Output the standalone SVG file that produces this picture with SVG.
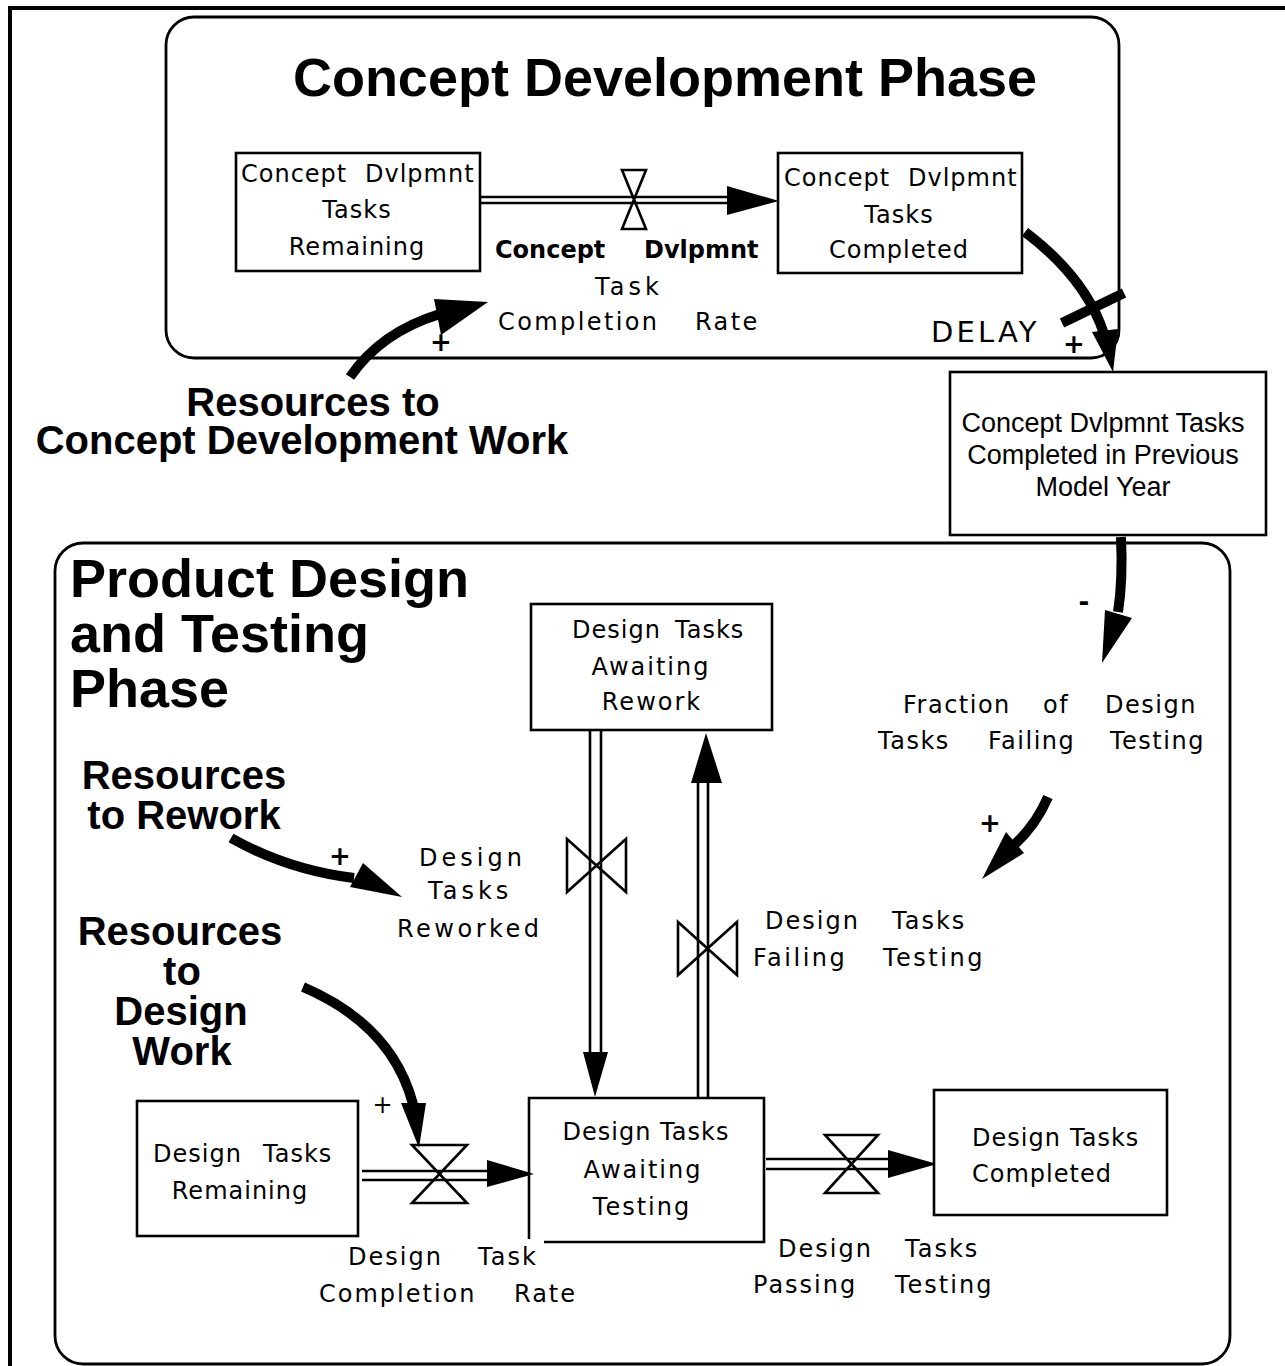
<svg xmlns="http://www.w3.org/2000/svg" width="1285" height="1366" viewBox="0 0 1285 1366">
<style>
.frame{fill:none;stroke:#000;stroke-width:4}
.phase{fill:none;stroke:#000;stroke-width:2.8}
.box{fill:#fff;stroke:#000;stroke-width:2.6}
.pipe{fill:none;stroke:#000;stroke-width:2.6}
.valve{fill:none;stroke:#000;stroke-width:2.6;stroke-linejoin:miter}
.link{fill:none;stroke:#000;stroke-width:10}
.head{fill:#000;stroke:none}
.t{font-family:"DejaVu Sans",Verdana,sans-serif;font-size:24px;fill:#000;letter-spacing:1px}
.r{font-family:"DejaVu Sans",Verdana,sans-serif;font-size:24px;fill:#000;letter-spacing:2px}
.c{text-anchor:middle}
.b{font-weight:bold}
.big{font-family:"Liberation Sans",Arial,Helvetica,sans-serif;font-weight:bold;font-size:40px;fill:#000}
.title{font-family:"Liberation Sans",Arial,Helvetica,sans-serif;font-weight:bold;font-size:54px;fill:#000}
.arial{font-family:"Liberation Sans",Arial,Helvetica,sans-serif;font-size:27px;fill:#000}
.sign{font-family:"DejaVu Sans",Verdana,sans-serif;font-weight:bold;font-size:26px;fill:#000;text-anchor:middle}
</style>
<rect width="1285" height="1366" fill="#fff"/>
<path class="frame" d="M10,1366 V8 H1285"/>

<g id="concept-phase">
  <rect class="phase" x="166" y="17" width="953" height="341" rx="28" ry="28"/>
  <text class="title c" x="665" y="96">Concept Development Phase</text>
</g>
<g id="design-phase">
  <rect class="phase" x="55" y="543" width="1175" height="821" rx="28" ry="28"/>
  <text class="title" x="70" y="597">Product Design</text>
  <text class="title" x="70" y="652">and Testing</text>
  <text class="title" x="70" y="707">Phase</text>
</g>

<g id="connectors">
  <!-- concept flow pipe -->
  <line class="pipe" x1="481" y1="197" x2="728" y2="197"/>
  <line class="pipe" x1="481" y1="203" x2="728" y2="203"/>
  <polygon class="head" points="727,186 779,201 727,215"/>
  <!-- rework pipe (down) -->
  <line class="pipe" x1="590" y1="731" x2="590" y2="1054"/>
  <line class="pipe" x1="601" y1="731" x2="601" y2="1054"/>
  <polygon class="head" points="583,1052 608,1052 595,1097"/>
  <!-- failing pipe (up) -->
  <line class="pipe" x1="698" y1="1097" x2="698" y2="781"/>
  <line class="pipe" x1="708" y1="1097" x2="708" y2="781"/>
  <polygon class="head" points="691,783 722,783 706,733"/>
  <!-- design completion pipe -->
  <line class="pipe" x1="362" y1="1171" x2="489" y2="1171"/>
  <line class="pipe" x1="362" y1="1180" x2="489" y2="1180"/>
  <polygon class="head" points="487,1160 534,1174 487,1187"/>
  <!-- passing pipe -->
  <line class="pipe" x1="766" y1="1159" x2="890" y2="1159"/>
  <line class="pipe" x1="766" y1="1169" x2="890" y2="1169"/>
  <polygon class="head" points="888,1150 937,1164 888,1178"/>

  <!-- causal links -->
  <path class="link" d="M350,377 Q381,332 440,314"/>
  <polygon class="head" points="434,299 488,302 441,335"/>
  <path class="link" d="M1025,232 Q1086,278 1104,334"/>
  <polygon class="head" points="1092,332 1118,329 1113,372"/>
  <line class="link" x1="1062" y1="323" x2="1124" y2="293"/>
  <path class="link" d="M1121,537 Q1123,580 1118,612"/>
  <polygon class="head" points="1105,610 1132,618 1102,663"/>
  <path class="link" d="M1048,797 Q1036,825 1014,845"/>
  <polygon class="head" points="1006,832 1024,853 982,879"/>
  <path class="link" d="M231,838 Q288,870 354,878"/>
  <polygon class="head" points="363,863 350,887 402,897"/>
  <path class="link" d="M303,987 Q392,1025 413,1104"/>
  <polygon class="head" points="401,1103 426,1103 419,1148"/>

  <!-- polarity signs -->
  <text class="sign" x="441" y="351">+</text>
  <text class="sign" x="1074" y="353">+</text>
  <text class="sign" x="340" y="865">+</text>
  <text class="sign" x="990" y="832">+</text>
  <text class="sign" x="1084" y="611">-</text>
  <text class="t c" x="383" y="1113">+</text>
  <text class="t" x="931" y="342" style="font-size:29px;letter-spacing:3.2px">DELAY</text>
</g>

<g id="concept-remaining">
  <rect class="box" x="236" y="153" width="244" height="118"/>
  <text class="t" y="182"><tspan x="241">Concept</tspan><tspan x="365">Dvlpmnt</tspan></text>
  <text class="t c" x="357" y="218">Tasks</text>
  <text class="t c" x="357" y="255">Remaining</text>
</g>
<g id="concept-completed">
  <rect class="box" x="778" y="153" width="244" height="120"/>
  <text class="t" y="186"><tspan x="784">Concept</tspan><tspan x="908">Dvlpmnt</tspan></text>
  <text class="t c" x="899" y="223">Tasks</text>
  <text class="t c" x="899" y="258">Completed</text>
</g>
<g id="concept-rate">
  <path class="valve" d="M622,170 L646,170 L622,229 L646,229 Z"/>
  <text class="t b" y="258" style="letter-spacing:0"><tspan x="495">Concept</tspan><tspan x="644">Dvlpmnt</tspan></text>
  <text class="r" x="595" y="295" style="letter-spacing:4px">Task</text>
  <text class="r" y="330" style="letter-spacing:2.4px"><tspan x="498">Completion</tspan><tspan x="695">Rate</tspan></text>
</g>
<g id="resources-concept">
  <text class="big c" x="313" y="416">Resources to</text>
  <text class="big c" x="302" y="454">Concept Development Work</text>
</g>
<g id="previous-year">
  <rect class="box" x="950" y="372" width="316" height="163"/>
  <text class="arial c" x="1103" y="432">Concept Dvlpmnt Tasks</text>
  <text class="arial c" x="1103" y="464">Completed in Previous</text>
  <text class="arial c" x="1103" y="496">Model Year</text>
</g>
<g id="fraction-failing">
  <text class="r" y="713" style="letter-spacing:1.5px"><tspan x="903">Fraction</tspan><tspan x="1043">of</tspan><tspan x="1105">Design</tspan></text>
  <text class="r" y="749" style="letter-spacing:1.5px"><tspan x="878">Tasks</tspan><tspan x="988">Failing</tspan><tspan x="1110">Testing</tspan></text>
</g>
<g id="awaiting-rework">
  <rect class="box" x="531" y="604" width="241" height="126"/>
  <text class="t" y="638"><tspan x="572">Design</tspan><tspan x="675">Tasks</tspan></text>
  <text class="t c" x="651" y="675" style="letter-spacing:2px">Awaiting</text>
  <text class="t c" x="652" y="710" style="letter-spacing:2px">Rework</text>
</g>
<g id="resources-rework">
  <text class="big c" x="184" y="789">Resources</text>
  <text class="big c" x="184" y="829">to Rework</text>
</g>
<g id="tasks-reworked">
  <path class="valve" d="M567,839 L626,892 L626,839 L567,892 Z"/>
  <text class="r" x="419" y="866" style="letter-spacing:4px">Design</text>
  <text class="r" x="428" y="899" style="letter-spacing:4px">Tasks</text>
  <text class="r" x="397" y="937" style="letter-spacing:3.5px">Reworked</text>
</g>
<g id="tasks-failing">
  <path class="valve" d="M678,922 L737,975 L737,922 L678,975 Z"/>
  <text class="r" y="929" style="letter-spacing:2px"><tspan x="765">Design</tspan><tspan x="892">Tasks</tspan></text>
  <text class="r" y="966" style="letter-spacing:2.5px"><tspan x="753">Failing</tspan><tspan x="883">Testing</tspan></text>
</g>
<g id="resources-design">
  <text class="big c" x="180" y="945">Resources</text>
  <text class="big c" x="182" y="985">to</text>
  <text class="big c" x="181" y="1025">Design</text>
  <text class="big c" x="182" y="1065">Work</text>
</g>
<g id="design-remaining">
  <rect class="box" x="137" y="1101" width="221" height="135"/>
  <text class="t" y="1162"><tspan x="153">Design</tspan><tspan x="263">Tasks</tspan></text>
  <text class="t c" x="240" y="1199">Remaining</text>
</g>
<g id="design-completion-rate">
  <path class="valve" d="M412,1145 L467,1145 L412,1203 L467,1203 Z"/>
  <text class="r" y="1265"><tspan x="348">Design</tspan><tspan x="478">Task</tspan></text>
  <text class="r" y="1302"><tspan x="319">Completion</tspan><tspan x="514">Rate</tspan></text>
</g>
<g id="awaiting-testing">
  <path class="box" style="fill:none" d="M529,1239 V1098 H764 V1242 H544"/>
  <text class="t c" x="646" y="1140">Design Tasks</text>
  <text class="t c" x="643" y="1178" style="letter-spacing:2px">Awaiting</text>
  <text class="t c" x="642" y="1215" style="letter-spacing:2px">Testing</text>
</g>
<g id="tasks-passing">
  <path class="valve" d="M825,1135 L878,1135 L825,1193 L878,1193 Z"/>
  <text class="r" y="1257"><tspan x="778">Design</tspan><tspan x="905">Tasks</tspan></text>
  <text class="r" y="1293"><tspan x="753">Passing</tspan><tspan x="895">Testing</tspan></text>
</g>
<g id="design-completed">
  <rect class="box" x="934" y="1090" width="233" height="125"/>
  <text class="t" y="1146"><tspan x="972">Design</tspan><tspan x="1070">Tasks</tspan></text>
  <text class="t" x="972" y="1182">Completed</text>
</g>
</svg>
